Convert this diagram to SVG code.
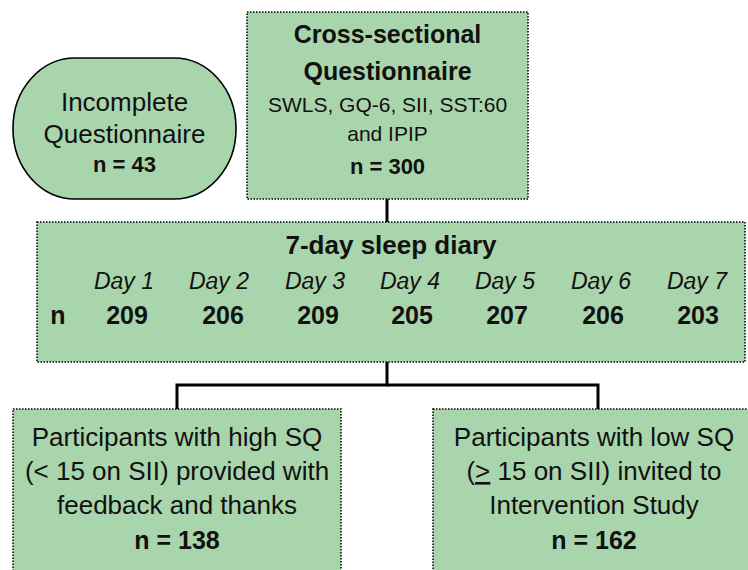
<svg xmlns="http://www.w3.org/2000/svg" width="748" height="570" viewBox="0 0 748 570">
<style>
.box{fill:#A9D5AC;stroke:#000;stroke-width:1.5;stroke-dasharray:1.5 1.5}
.oval{fill:#A9D5AC;stroke:#000;stroke-width:1.6}
.t{font-family:"Liberation Sans",Arial,sans-serif;fill:#111;text-anchor:middle}
.r{font-size:26px}
.s{font-size:21px}
.b{font-weight:bold}
.i{font-style:italic;font-size:23px}
.c{fill:none;stroke:#000;stroke-width:3}
</style>
<rect width="748" height="570" fill="#fff"/>
<g id="connectors">
<line class="c" x1="387" y1="199" x2="387" y2="222"/>
<polyline class="c" points="387,362 387,385 177,385 177,409"/>
<polyline class="c" points="387,385 598,385 598,409"/>
</g>
<g id="incomplete">
<rect class="oval" x="13" y="58" width="223" height="141" rx="62" ry="70"/>
<text class="t r" x="124.5" y="111">Incomplete</text>
<text class="t r" x="124.5" y="143">Questionnaire</text>
<text class="t b" x="124.5" y="172" font-size="22">n = 43</text>
</g>
<g id="cross-sectional">
<rect class="box" x="247" y="12" width="281" height="187"/>
<text class="t b" x="387.5" y="43" font-size="25">Cross-sectional</text>
<text class="t b" x="387.5" y="80" font-size="25">Questionnaire</text>
<text class="t s" x="387.5" y="112">SWLS, GQ-6, SII, SST:60</text>
<text class="t s" x="387.5" y="141">and IPIP</text>
<text class="t b" x="387.5" y="174" font-size="22">n = 300</text>
</g>
<g id="diary">
<rect class="box" x="37" y="222" width="708" height="140"/>
<text class="t b" x="391" y="254" font-size="26">7-day sleep diary</text>
<text class="t i" x="124" y="289">Day 1</text>
<text class="t i" x="219" y="289">Day 2</text>
<text class="t i" x="315" y="289">Day 3</text>
<text class="t i" x="410" y="289">Day 4</text>
<text class="t i" x="505" y="289">Day 5</text>
<text class="t i" x="601" y="289">Day 6</text>
<text class="t i" x="697" y="289">Day 7</text>
<text class="t b" x="58" y="324" font-size="25">n</text>
<text class="t b" x="127" y="324" font-size="25">209</text>
<text class="t b" x="223" y="324" font-size="25">206</text>
<text class="t b" x="318" y="324" font-size="25">209</text>
<text class="t b" x="412" y="324" font-size="25">205</text>
<text class="t b" x="507" y="324" font-size="25">207</text>
<text class="t b" x="603" y="324" font-size="25">206</text>
<text class="t b" x="698" y="324" font-size="25">203</text>
</g>
<g id="high-sq">
<rect class="box" x="13" y="409" width="328" height="170"/>
<text class="t r" x="177" y="446">Participants with high SQ</text>
<text class="t r" x="177" y="480">(&lt; 15 on SII) provided with</text>
<text class="t r" x="177" y="514">feedback and thanks</text>
<text class="t b" x="177" y="549" font-size="25">n = 138</text>
</g>
<g id="low-sq">
<rect class="box" x="433" y="409" width="330" height="170"/>
<text class="t r" x="594" y="446">Participants with low SQ</text>
<text class="t r" x="594" y="480">(<tspan text-decoration="underline">&gt;</tspan> 15 on SII) invited to</text>
<text class="t r" x="594" y="514">Intervention Study</text>
<text class="t b" x="594" y="549" font-size="25">n = 162</text>
</g>
</svg>
